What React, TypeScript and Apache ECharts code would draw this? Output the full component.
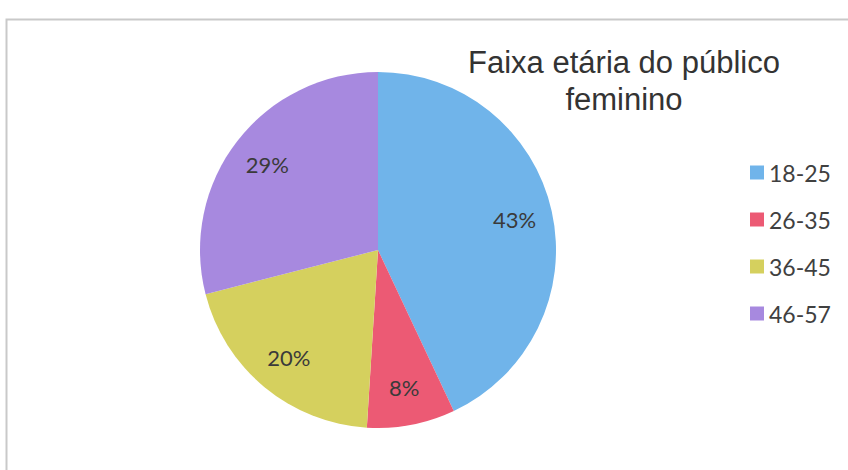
import React, { useEffect, useRef } from "react";
import * as echarts from "echarts";

const categories = ["18-25", "26-35", "36-45", "46-57"];
const values = [43, 8, 20, 29];
const colors = ["#70b4ea", "#ec5a74", "#d5d05e", "#a789df"];
const titleText = "Faixa etária do público\nfeminino";

export default function App() {
  const ref = useRef<HTMLDivElement>(null);
  useEffect(() => {
    if (!ref.current) return;
    const chart = echarts.init(ref.current, null, { renderer: "svg" });
    const data = categories.map((name, i) => ({ name, value: values[i] }));
    chart.setOption({
      animation: false,
      backgroundColor: "#ffffff",
      color: colors,
      title: {
        text: titleText,
        left: 619,
        top: 39,
        textAlign: "center",
        textStyle: {
          fontFamily: "Liberation Sans, Arial, sans-serif",
          fontSize: 31,
          fontWeight: "normal",
          color: "#333333",
          lineHeight: 37,
          align: "center",
        },
      },
      legend: {
        orient: "vertical",
        left: 745,
        top: 156,
        itemWidth: 14,
        itemHeight: 14,
        itemGap: 24,
        icon: "rect",
        data: categories,
        textStyle: {
          fontFamily: "Lato, sans-serif",
          fontSize: 23,
          color: "#404040",
          padding: [0, 0, 0, 0],
        },
      },
      graphic: [
        {
          type: "rect",
          shape: { x: 6.5, y: 19.5, width: 860, height: 470 },
          style: { fill: "none", stroke: "#c9c9c9", lineWidth: 2 },
          silent: true,
          z: 0,
        },
      ],
      series: [
        {
          type: "pie",
          center: [378, 250],
          radius: [0, 178],
          startAngle: 90,
          clockwise: true,
          data,
          label: { show: false },
          labelLine: { show: false },
          itemStyle: { borderWidth: 0 },
          emphasis: { disabled: true },
        },
        {
          type: "pie",
          center: [378, 250],
          radius: [96, 178],
          startAngle: 90,
          clockwise: true,
          silent: true,
          data,
          itemStyle: { color: "rgba(0,0,0,0)", borderWidth: 0 },
          label: {
            show: true,
            position: "inside",
            formatter: "{c}%",
            fontFamily: "Lato, sans-serif",
            fontSize: 22,
            color: "#3a3a3a",
          },
          labelLine: { show: false },
          emphasis: { disabled: true },
        },
      ],
    });
    return () => chart.dispose();
  }, []);
  return (
    <div
      ref={ref}
      style={{ position: "fixed", left: 0, top: 0, width: 848, height: 470 }}
    />
  );
}
